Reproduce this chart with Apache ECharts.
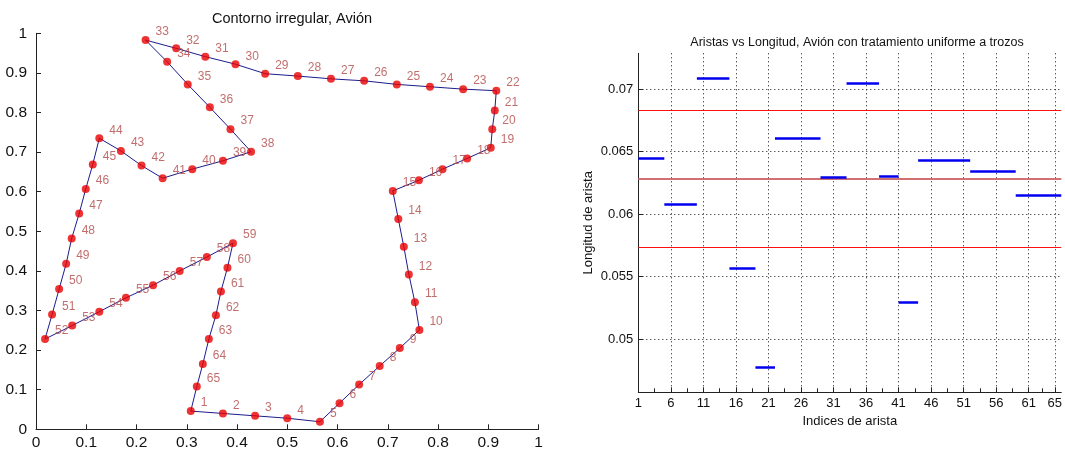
<!DOCTYPE html>
<html>
<head>
<meta charset="utf-8">
<script src="https://cdn.jsdelivr.net/npm/echarts@6/dist/echarts.min.js"></script>
<style>
html,body{margin:0;padding:0;background:#fff;}
#chart{width:1065px;height:452px;}
</style>
</head>
<body>
<div id="chart"></div>
<script>
// ---- Left panel: contour points (index 1..65) ----
const contourX = [0.308,0.372,0.436,0.500,0.565,0.604,0.643,0.684,0.724,0.763,
                  0.754,0.742,0.732,0.721,0.710,0.762,0.809,0.858,0.905,0.908,
                  0.913,0.916,0.850,0.784,0.718,0.653,0.587,0.521,0.456,0.397,
                  0.337,0.279,0.218,0.261,0.302,0.346,0.387,0.428,0.372,0.311,
                  0.252,0.210,0.169,0.126,0.113,0.099,0.086,0.071,0.060,0.046,
                  0.032,0.018,0.072,0.126,0.179,0.233,0.286,0.340,0.392,0.381,
                  0.368,0.358,0.344,0.332,0.320];
const contourY = [0.046,0.040,0.034,0.028,0.019,0.066,0.113,0.160,0.205,0.251,
                  0.321,0.391,0.461,0.531,0.602,0.629,0.657,0.684,0.711,0.758,
                  0.805,0.855,0.859,0.865,0.871,0.880,0.885,0.892,0.898,0.922,
                  0.941,0.962,0.983,0.928,0.871,0.813,0.758,0.701,0.678,0.657,
                  0.634,0.666,0.703,0.735,0.669,0.607,0.545,0.482,0.418,0.354,
                  0.290,0.228,0.262,0.297,0.332,0.364,0.400,0.435,0.470,0.408,
                  0.348,0.288,0.228,0.165,0.108];
const leftTicks = [0,0.1,0.2,0.3,0.4,0.5,0.6,0.7,0.8,0.9,1];

// ---- Right panel: piecewise-uniform edge lengths ----
const segStart = [1,5,10,15,19,22,29,33,38,41,44,52,59];
const segEnd   = [5,10,15,19,22,29,33,38,41,44,52,59,66];
const segLen   = [0.06447,0.06083,0.07088,0.05567,0.04778,0.06604,0.06292,0.07048,0.06305,0.05296,0.06431,0.06345,0.06155];
const refLines = [0.06829,0.06284,0.05736];
const rightXTicks = [1,6,11,16,21,26,31,36,41,46,51,56,61,65];
const rightXMinor = [3.5,8.5,13.5,18.5,23.5,28.5,33.5,38.5,43.5,48.5,53.5,58.5,63];
const rightYTicks = [0.05,0.055,0.06,0.065,0.07];

const FONT = 'Liberation Sans';
const chart = echarts.init(document.getElementById('chart'), null, {renderer:'canvas'});

const contourPts = contourX.map((x,i)=>[x, contourY[i], i+1]);
const closedLine = contourPts.concat([contourPts[0]]);

const option = {
  backgroundColor:'#ffffff',
  animation:false,
  title:[
    {text:'Contorno irregular, Avión', left:287, top:6, textAlign:'center',
     textStyle:{fontFamily:FONT, fontSize:14.5, fontWeight:'normal', color:'#111'}},
    {text:'Aristas vs Longitud, Avión con tratamiento uniforme a trozos', left:852, top:31, textAlign:'center',
     textStyle:{fontFamily:FONT, fontSize:12.5, fontWeight:'normal', color:'#111'}}
  ],
  grid:[
    {left:36, right:526.5, top:33.3, bottom:22.7},
    {left:638.3, right:-2.3, top:53.3, bottom:59.7}
  ],
  xAxis:[
    {gridIndex:0, type:'value', min:0, max:1, interval:0.1,
     axisLine:{show:true, onZero:false, lineStyle:{color:'#222', width:1}},
     axisTick:{inside:true, length:5, lineStyle:{color:'#222'}},
     axisLabel:{fontFamily:FONT, fontSize:15.5, color:'#111', margin:5,
       customValues:leftTicks},
     splitLine:{show:false}},
    {gridIndex:1, type:'value', min:1, max:66, position:'bottom',
     axisLine:{show:true, onZero:false, lineStyle:{color:'#222', width:1}},
     axisTick:{inside:true, length:5, customValues:rightXTicks, lineStyle:{color:'#222'}},
     axisLabel:{fontFamily:FONT, fontSize:13, color:'#111', margin:5, customValues:rightXTicks},
     splitLine:{show:true, lineStyle:{color:'#111', type:[1,3], width:1}},
     name:'Indices de arista', nameLocation:'middle', nameGap:23,
     nameTextStyle:{fontFamily:FONT, fontSize:13, color:'#111'}},
    {gridIndex:1, type:'value', min:1, max:66, position:'bottom', offset:0,
     axisLine:{show:false},
     axisTick:{inside:true, length:4, customValues:rightXMinor, lineStyle:{color:'#222'}},
     axisLabel:{show:false},
     splitLine:{show:false}}
  ],
  yAxis:[
    {gridIndex:0, type:'value', min:0, max:1, interval:0.1,
     axisLine:{show:true, onZero:false, lineStyle:{color:'#222', width:1}},
     axisTick:{inside:true, length:5, lineStyle:{color:'#222'}},
     axisLabel:{fontFamily:FONT, fontSize:15.5, color:'#111', margin:9,
       customValues:leftTicks},
     splitLine:{show:false}},
    {gridIndex:1, type:'value', min:0.045734, max:0.072882,
     axisLine:{show:true, onZero:false, lineStyle:{color:'#222', width:1}},
     axisTick:{inside:true, length:5, customValues:rightYTicks, lineStyle:{color:'#222'}},
     axisLabel:{fontFamily:FONT, fontSize:13, color:'#111', margin:5, customValues:rightYTicks,
       formatter:(v)=>String(Math.round(v*1000)/1000)},
     splitLine:{show:true, lineStyle:{color:'#111', type:[1,3], width:1}},
     name:'Longitud de arista', nameLocation:'middle', nameRotate:90, nameGap:43,
     nameTextStyle:{fontFamily:FONT, fontSize:13, color:'#111'}}
  ],
  series:[
    {type:'line', xAxisIndex:0, yAxisIndex:0, data:closedLine, showSymbol:false,
     lineStyle:{color:'#1c1c8c', width:1}, silent:true, z:2},
    {type:'scatter', xAxisIndex:0, yAxisIndex:0, data:contourPts, symbol:'circle', symbolSize:8,
     itemStyle:{color:'#e80000'}, z:3,
     label:{show:true, position:'inside', align:'left', verticalAlign:'middle', offset:[10,-8],
       formatter:(p)=>String(p.value[2]), fontFamily:FONT, fontSize:12, color:'#b24848'}},
    {type:'lines', coordinateSystem:'cartesian2d', xAxisIndex:1, yAxisIndex:1, z:3,
     lineStyle:{color:'#ff0000', width:1, opacity:1},
     data:refLines.map((v,i)=>({coords:[[1,v],[66,v]],
        lineStyle: i===1 ? {color:'#d07070', width:2} : {color:'#ff1010', width:1}}))},
    {type:'lines', coordinateSystem:'cartesian2d', xAxisIndex:1, yAxisIndex:1, z:4,
     lineStyle:{color:'#0000ee', width:2.5, opacity:1},
     data:segLen.map((v,i)=>({coords:[[segStart[i],v],[segEnd[i],v]]}))}
  ]
};
chart.setOption(option);
</script>
</body>
</html>
